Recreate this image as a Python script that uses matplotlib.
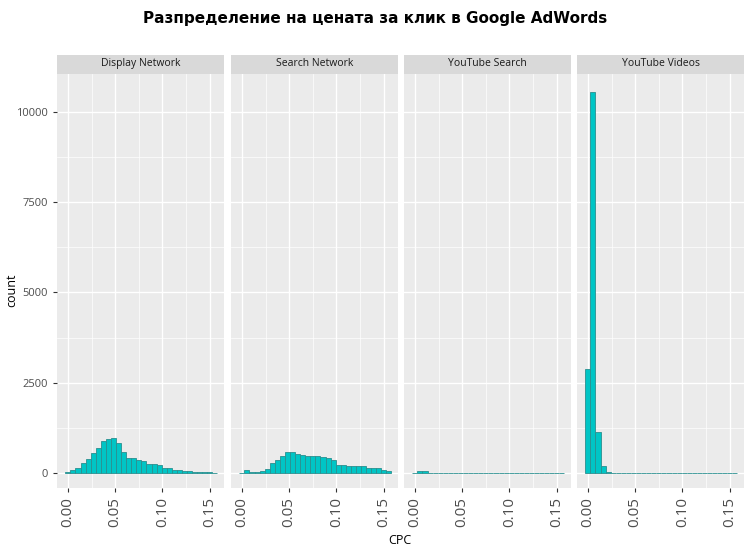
import matplotlib
matplotlib.use("Agg")
import matplotlib.pyplot as plt
import numpy as np

panels = ["Display Network", "Search Network", "YouTube Search", "YouTube Videos"]
display_counts = [18, 75, 140, 280, 390, 555, 690, 900, 940, 960, 830, 590, 415, 415, 370,
                  320, 260, 260, 210, 150, 150, 80, 80, 45, 45, 30, 30, 30, 15, 0]
search_counts = [0, 90, 20, 20, 45, 110, 280, 350, 460, 590, 570, 535, 510, 480, 460,
                 480, 445, 415, 350, 220, 220, 205, 205, 205, 185, 150, 130, 130, 90, 45]
ytsearch_counts = [10, 60, 60] + [0] * 27
ytvideo_counts = [2880, 10550, 1140, 185, 20] + [0] * 25
all_counts = [display_counts, search_counts, ytsearch_counts, ytvideo_counts]
bin_start, bin_width = -0.0027, 0.00536
xticks = [0.0, 0.05, 0.10, 0.15]
xticklabels = ["0.00", "0.05", "0.10", "0.15"]
yticks = [0, 2500, 5000, 7500, 10000]

plt.rcParams['font.family'] = ['Open Sans', 'DejaVu Sans']
fig = plt.figure(figsize=(7.5, 5.58), dpi=100)
W, H = 750, 558
lefts = [57, 231, 404, 577]
pw = 167
top, bottom = 74, 488
fig.text(0.5, 1 - 18 / H, "Разпределение на цената за клик в Google AdWords",
         ha='center', va='center', fontsize=11, fontweight='bold', family='DejaVu Sans')
for i, (name, counts) in enumerate(zip(panels, all_counts)):
    ax = fig.add_axes([lefts[i] / W, 1 - bottom / H, pw / W, (bottom - top) / H])
    ax.set_facecolor('#EBEBEB')
    edges = bin_start + bin_width * np.arange(len(counts))
    ax.bar(edges, counts, width=bin_width, align='edge', color='#00C5C5',
           edgecolor='#2A8F8F', linewidth=0.6, zorder=3)
    ax.set_xlim(-0.0115, 0.165)
    ax.set_ylim(-415, 11050)
    ax.set_xticks(xticks)
    ax.set_xticks([0.025, 0.075, 0.125], minor=True)
    ax.set_yticks(yticks)
    ax.set_yticks([1250, 3750, 6250, 8750], minor=True)
    ax.grid(True, which='major', color='white', linewidth=1.0, zorder=0)
    ax.grid(True, which='minor', color='white', linewidth=0.5, zorder=0)
    for s in ax.spines.values():
        s.set_visible(False)
    ax.tick_params(which='minor', length=0)
    ax.tick_params(which='major', color='#333333', length=3)
    ax.set_xticklabels(xticklabels, rotation=90, fontsize=11, color='#4D4D4D')
    if i == 0:
        ax.set_yticklabels([str(v) for v in yticks], fontsize=8, color='#4D4D4D')
    else:
        ax.tick_params(axis='y', length=0, labelleft=False)
    ax.text(0.5, 1 + 10 / (bottom - top), name, transform=ax.transAxes,
            ha='center', va='center', fontsize=7.5, color='#1A1A1A',
            bbox=dict(boxstyle='square,pad=0', fc='#D9D9D9', ec='none'))
    strip = plt.Rectangle((0, 1), 1, 19 / (bottom - top), transform=ax.transAxes,
                          fc='#D9D9D9', ec='none', clip_on=False, zorder=1)
    ax.add_patch(strip)
fig.text(400 / W, 1 - 541 / H, "CPC", ha='center', va='center', fontsize=9)
fig.text(12 / W, 1 - 290 / H, "count", ha='center', va='center', fontsize=9, rotation=90)
fig.savefig("out.png", dpi=100)
